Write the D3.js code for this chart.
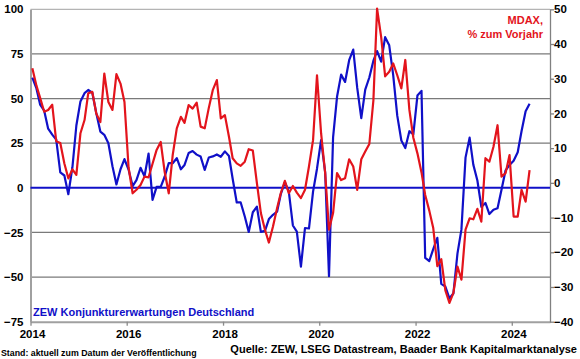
<!DOCTYPE html>
<html>
<head>
<meta charset="utf-8">
<script src="https://cdn.jsdelivr.net/npm/d3@7"></script>
<style>
    body { margin: 0; background: #fff; }
    svg text { font-family: "Liberation Sans", Arial, sans-serif; font-weight: bold; }
</style>
</head>
<body>
<div id="chart"></div>
<script>
// Monthly values, Jan 2014 .. May 2024
const firstYear = 2014;

// ZEW Konjunkturerwartungen Deutschland (left axis)
const zewValues = [
    61.7, 55.7, 46.6, 43.2, 33.1, 29.8, 27.1, 8.6, 6.9, -3.6, 11.5, 34.9,
    48.4, 53.0, 54.8, 53.3, 41.9, 31.5, 29.7, 25.0, 12.1, 1.9, 10.4, 16.1,
    10.2, 1.0, 4.3, 11.2, 6.4, 19.2, -6.8, 0.5, 0.5, 6.2, 13.8, 13.8,
    16.6, 10.4, 12.8, 19.5, 20.6, 18.6, 17.5, 10.0, 17.0, 17.6, 18.7, 17.4,
    20.4, 17.8, 5.1, -8.2, -8.2, -16.1, -24.7, -13.7, -10.6, -24.7, -24.1, -17.5,
    -15.1, -13.4, -3.6, 3.1, -2.1, -21.1, -24.5, -44.1, -22.5, -22.8, -2.1, 10.7,
    26.7, 8.7, -49.5, 28.2, 51.0, 63.4, 59.3, 71.5, 77.4, 56.1, 39.0, 55.0,
    61.8, 71.2, 76.6, 70.7, 84.4, 79.8, 63.3, 40.4, 26.5, 22.3, 31.7, 29.9,
    51.7, 54.3, -39.3, -41.0, -34.3, -28.0, -53.8, -55.3, -61.9, -59.2, -36.7, -23.3,
    16.9, 28.1, 13.0, 4.1, -10.7, -8.5, -14.7, -12.3, -11.4, -1.1, 9.8, 12.8,
    15.2, 19.9, 31.7, 42.9, 47.1
];

// MDAX, % zum Vorjahr (right axis)
const mdaxValues = [
    33, 28, 24.5, 20.5, 21, 22.5, 12, 11.5, 5.6, 1.3, 3.9, 2.3,
    14.3, 18.1, 25.8, 26.2, 20, 17.5, 31.5, 23.3, 21, 31.3, 28.6, 23.3,
    4.5, -3, -2, -0.6, 1.8, 1.6, 5.5, 9.5, 11.8, 3.2, -3, 8,
    15.7, 19, 17.3, 22.4, 21.4, 23.1, 16.2, 15.7, 21.6, 26.7, 29.6, 18.6,
    19.5, 13.3, 7.1, 5.6, 4.9, 6.1, 9.7, 9.3, -0.1, -8.7, -13.5, -17.2,
    -12.6, -7.3, -3, 0.6, -3, -0.9, -2.8, -4.4, -2, 4.7, 12.3, 31,
    14.3, 2.8, -13.5, -8.7, 2.8, 0.8, 1.3, 6.8, 4.7, -2, 6.8, 9,
    11.2, 23.8, 50.2, 42, 30.7, 32, 34.4, 31, 27.2, 35.4, 21, 13,
    8.5, 3, -3.5, -8, -13, -24, -22, -31, -34.6, -31.7, -24.1, -27.9,
    -13.5, -10.2, -10.5, -7.5, -11.2, 7.1, 6.1, 10.4, 16.6, 1.8, 2.8, 8,
    -9.7, -9.7, -2, -5.4, 3.7
];

const leftTicks = [-75, -50, -25, 0, 25, 50, 75, 100];
const rightTicks = [-40, -30, -20, -10, 0, 10, 20, 30, 40, 50];
const yearTicks = [2014, 2016, 2018, 2020, 2022, 2024];

const width = 580, height = 359;
const plot = {left: 30.5, right: 550, top: 9.3, bottom: 321.7};
const blue = "#1010c8";
const red = "#e3141c";

let svg = d3.select("#chart")
    .append("svg")
    .attr("width", width)
    .attr("height", height);

// Scales
const x = d3.scaleTime()
    .domain([new Date(2014, 0, 1), new Date(2024, 9, 17)])
    .range([plot.left, plot.right]);
const yLeft = d3.scaleLinear().domain([-75, 100]).range([plot.bottom, plot.top]);
const yRight = d3.scaleLinear().domain([-40, 50]).range([plot.bottom, plot.top]);

// points sit in the middle of each month
function monthDate(i) {
    return new Date(firstYear, i, 15);
}

// Gridlines on the left axis ticks
svg.append("g")
    .selectAll("line")
    .data(leftTicks.filter(d => d !== 0 && d !== -75))
    .enter()
    .append("line")
    .attr("x1", plot.left)
    .attr("x2", plot.right)
    .attr("y1", d => yLeft(d))
    .attr("y2", d => yLeft(d))
    .style("stroke", d => d === 100 ? "#b4b4b4" : "#7a7a7a")
    .style("stroke-width", 1.3);

// Bottom axis with year ticks
let xAxis = svg.append("g")
    .attr("transform", `translate(0, ${plot.bottom})`)
    .call(d3.axisBottom(x)
        .tickValues(yearTicks.map(y => new Date(y, 0, 1)))
        .tickFormat(d3.timeFormat("%Y"))
        .tickSizeInner(4)
        .tickSizeOuter(0)
        .tickPadding(4.2))
    .attr("font-size", 11.5)
    .attr("font-family", null);
xAxis.select(".domain").style("stroke", "#a0a0a0").style("stroke-width", 2);
xAxis.selectAll(".tick line").style("stroke", "#8a8a8a").style("stroke-width", 1.3);
xAxis.selectAll("text").attr("dx", 1.5).style("fill", "#000");

// Left axis
let leftAxis = svg.append("g")
    .attr("transform", `translate(${plot.left}, 0)`)
    .call(d3.axisLeft(yLeft)
        .tickValues(leftTicks)
        .tickSize(0)
        .tickPadding(7))
    .attr("font-size", 11.5)
    .attr("font-family", null);
leftAxis.select(".domain").style("stroke", "#a0a0a0").style("stroke-width", 2);
leftAxis.selectAll("text").style("fill", "#000");

// Right axis (MDAX)
let rightAxis = svg.append("g")
    .attr("transform", `translate(${plot.right}, 0)`)
    .call(d3.axisRight(yRight)
        .tickValues(rightTicks)
        .tickSizeInner(4)
        .tickSizeOuter(0)
        .tickPadding(0))
    .attr("font-size", 11.5)
    .attr("font-family", null);
rightAxis.select(".domain").style("stroke", "#808080").style("stroke-width", 1.3);
rightAxis.selectAll(".tick line").style("stroke", "#808080").style("stroke-width", 1.3);
rightAxis.selectAll("text").style("fill", "#000");

// Zero line of the ZEW axis
svg.append("line")
    .attr("x1", plot.left)
    .attr("x2", plot.right)
    .attr("y1", yLeft(0))
    .attr("y2", yLeft(0))
    .style("stroke", blue)
    .style("stroke-width", 2);

// Series lines
const zewLine = d3.line()
    .x((d, i) => x(monthDate(i)))
    .y(d => yLeft(d));
const mdaxLine = d3.line()
    .x((d, i) => x(monthDate(i)))
    .y(d => yRight(d));

svg.append("path")
    .datum(zewValues)
    .attr("d", zewLine)
    .style("fill", "none")
    .style("stroke", blue)
    .style("stroke-width", 2.2)
    .style("stroke-linejoin", "round");

svg.append("path")
    .datum(mdaxValues)
    .attr("d", mdaxLine)
    .style("fill", "none")
    .style("stroke", red)
    .style("stroke-width", 2.2)
    .style("stroke-linejoin", "round");

// Labels
svg.append("text")
    .attr("x", 543)
    .attr("y", 24)
    .style("text-anchor", "end")
    .style("font-size", "11px")
    .style("fill", red)
    .text("MDAX,");
svg.append("text")
    .attr("x", 543)
    .attr("y", 38)
    .style("text-anchor", "end")
    .style("font-size", "11px")
    .style("fill", red)
    .text("% zum Vorjahr");

svg.append("text")
    .attr("x", 33)
    .attr("y", 315.7)
    .style("font-size", "11px")
    .style("fill", blue)
    .text("ZEW Konjunkturerwartungen Deutschland");

svg.append("text")
    .attr("x", 1)
    .attr("y", 355.5)
    .style("font-size", "8.8px")
    .style("fill", "#000")
    .text("Stand: aktuell zum Datum der Veröffentlichung");

svg.append("text")
    .attr("x", 577)
    .attr("y", 352.7)
    .style("text-anchor", "end")
    .style("font-size", "11px")
    .style("fill", "#000")
    .text("Quelle: ZEW, LSEG Datastream, Baader Bank Kapitalmarktanalyse");
</script>
</body>
</html>
